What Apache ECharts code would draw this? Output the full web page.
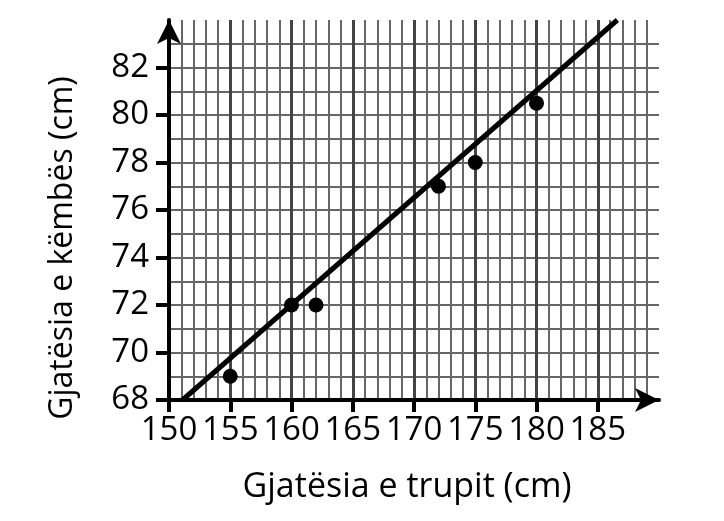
<!DOCTYPE html>
<html>
<head>
<meta charset="utf-8">
<script src="https://cdn.jsdelivr.net/npm/echarts@6/dist/echarts.min.js"></script>
<style>
  html, body { margin: 0; padding: 0; background: #fff; }
  #chart { width: 724px; height: 521px; }
</style>
</head>
<body>
<div id="chart"></div>
<script>
// gjatesia e trupit (x) dhe e kembes (y)
var bodyHeight = [155, 160, 162, 172, 175, 180];
var legLength = [69, 72, 72, 77, 78, 80.5];
// vija e pershtatjes, dy skajet e lexuara nga figura
var fitX = [151.1, 186.6];
var fitY = [68, 84];
var xTicks = [150, 155, 160, 165, 170, 175, 180, 185];
var yTicks = [68, 70, 72, 74, 76, 78, 80, 82];

var font = "Open Sans";
var chart = echarts.init(document.getElementById("chart"));

chart.setOption({
    animation: false,
    grid: { left: 169, right: 65, top: 20, bottom: 121 },
    xAxis: {
        type: 'value',
        min: 150,
        max: 190,
        interval: 5,
        name: 'Gjatësia e trupit (cm)',
        nameLocation: 'middle',
        nameGap: 70,
        nameTextStyle: { fontFamily: font, fontSize: 34, color: '#000', padding: [0, 14, 0, 0] },
        axisLine: {
            onZero: false,
            symbol: ['none', 'arrow'],
            symbolSize: [18, 24],
            lineStyle: { color: '#000', width: 4 }
        },
        axisTick: { customValues: xTicks, length: 12, lineStyle: { color: '#000', width: 4 } },
        axisLabel: { customValues: xTicks, margin: 14, fontFamily: font, fontSize: 33, color: '#000' },
        splitLine: { lineStyle: { color: '#444', width: 3 } },
        minorTick: { show: false, splitNumber: 5 },
        minorSplitLine: { show: true, lineStyle: { color: '#666', width: 2 } }
    },
    yAxis: {
        type: 'value',
        min: 68,
        max: 84,
        interval: 2,
        name: 'Gjatësia e këmbës (cm)',
        nameLocation: 'middle',
        nameRotate: 90,
        nameGap: 90,
        nameTextStyle: { fontFamily: font, fontSize: 32, color: '#000', padding: [0, 76, 0, 0] },
        axisLine: {
            onZero: false,
            symbol: ['none', 'arrow'],
            symbolSize: [18, 24],
            lineStyle: { color: '#000', width: 4 }
        },
        axisTick: { customValues: yTicks, length: 13, lineStyle: { color: '#000', width: 4 } },
        axisLabel: { customValues: yTicks, margin: 20, fontFamily: font, fontSize: 33, color: '#000' },
        splitLine: { lineStyle: { color: '#666', width: 2 } },
        minorTick: { show: false, splitNumber: 2 },
        minorSplitLine: { show: true, lineStyle: { color: '#666', width: 2 } }
    },
    series: [
        {
            type: 'line',
            data: fitX.map(function (x, i) { return [x, fitY[i]]; }),
            showSymbol: false,
            lineStyle: { color: '#000', width: 5 },
            z: 3
        },
        {
            type: 'scatter',
            data: bodyHeight.map(function (x, i) { return [x, legLength[i]]; }),
            symbolSize: 15,
            itemStyle: { color: '#000', opacity: 1 },
            z: 4
        }
    ]
});
</script>
</body>
</html>
